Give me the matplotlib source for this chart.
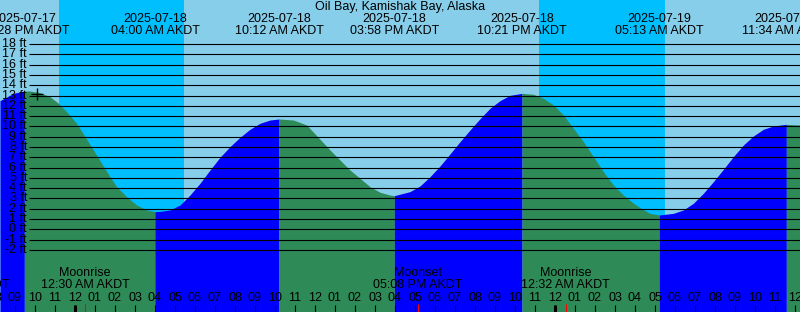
import numpy as np
import matplotlib.pyplot as plt
from matplotlib.transforms import blended_transform_factory

plt.rcParams['font.family'] = ['Liberation Sans', 'DejaVu Sans']

TITLE = "Oil Bay, Kamishak Bay, Alaska"

# time axis: hours relative to 2025-07-18 00:00 AKDT
T_START, T_END = -3.75, 36.25

# tide height (hours, ft)
curve_hours = [-3.75, -3.08, -2.25, -1.75, -1.25, -0.83, -0.42, 0.08, 0.5, 0.92,
               1.33, 1.75, 2.08, 2.58, 3.08, 3.58,
               4.25, 4.75, 5.25, 5.75, 6.25, 6.75, 7.25, 7.75, 8.25, 8.75, 9.25, 9.75,
               10.92, 11.58, 12.25, 12.75, 13.25, 13.75, 14.25, 14.75, 15.25, 15.75,
               16.75, 17.25, 17.75, 18.25, 18.75, 19.25, 19.75, 20.25, 20.75, 21.25, 21.75,
               22.92, 23.42, 23.92, 24.42, 24.92, 25.42, 25.92, 26.42, 26.92, 27.42, 27.92,
               28.42, 28.75,
               29.92, 30.42, 30.92, 31.42, 31.92, 32.42, 32.92, 33.42, 33.92, 34.42, 34.92,
               36.25]
curve_ft = [12.5, 13.21, 13.44, 13.28, 12.89, 12.24, 11.43, 10.3, 9.0, 7.71,
            6.41, 5.11, 4.14, 3.17, 2.36, 1.88,
            1.74, 1.88, 2.36, 3.33, 4.47, 5.76, 7.0, 8.03, 8.94, 9.72, 10.3, 10.62,
            10.62, 10.14, 8.75, 7.71, 6.73, 5.76, 4.96, 4.14, 3.6, 3.33,
            3.66, 4.21, 5.11, 6.15, 7.32, 8.51, 9.65, 10.74, 11.76, 12.5, 13.02,
            13.12, 12.73, 12.08, 11.11, 9.81, 8.51, 7.06, 5.6, 4.3, 3.33, 2.53,
            1.9, 1.55,
            1.55, 1.88, 2.53, 3.5, 4.63, 5.83, 7.06, 8.19, 9.07, 9.72, 10.04,
            10.14]

# high / low tides
event_hours = [-2.533, 4.0, 10.2, 15.967, 22.35, 29.217, 35.567]
event_ft = [13.44, 1.71, 10.72, 3.27, 13.21, 1.39, 10.2]
event_dates = ["2025-07-17", "2025-07-18", "2025-07-18", "2025-07-18",
               "2025-07-18", "2025-07-19", "2025-07-19"]
event_times = ["09:28 PM AKDT", "04:00 AM AKDT", "10:12 AM AKDT", "03:58 PM AKDT",
               "10:21 PM AKDT", "05:13 AM AKDT", "11:34 AM AKDT"]

# night (sunset -> sunrise)
night_spans = [(-0.8, 5.45), (23.2, 29.5)]

# moon events
moon_hours = [-5.5, 0.5, 17.133, 24.533]
moon_names = ["Moonset", "Moonrise", "Moonset", "Moonrise"]
moon_times = ["06:30 PM AKDT", "12:30 AM AKDT", "05:08 PM AKDT", "12:32 AM AKDT"]

mark_hour, mark_ft = -1.9, 13.15
ft_levels = list(range(-2, 19))

# pixel -> ft mapping of the original (0 ft at y=229.3, 10.29 px/ft)
H_PX = 312
FT_TOP = 229.3 / 10.29
FT_BOTTOM = (229.3 - H_PX) / 10.29

fig = plt.figure(figsize=(8, 3.12), dpi=100)
ax = fig.add_axes([0, 0, 1, 1])
ax.set_xlim(T_START, T_END)
ax.set_ylim(FT_BOTTOM, FT_TOP)
ax.axis("off")
top = blended_transform_factory(ax.transData, ax.transAxes)


def py(p):
    return 1 - p / H_PX


# sky
ax.axvspan(T_START, T_END, color="#87CEEB", lw=0)
for a, b in night_spans:
    ax.axvspan(a, b, color="#00BFFF", lw=0)

# tide curve, blue when rising, green when falling
t = np.array(curve_hours + event_hours)
h = np.array(curve_ft + event_ft)
order = np.argsort(t)
t, h = t[order], h[order]
bounds = [T_START] + event_hours + [T_END]
for i in range(len(bounds) - 1):
    a, b = bounds[i], bounds[i + 1]
    m = (t >= a) & (t <= b)
    rising = i % 2 == 0
    ax.fill_between(t[m], h[m], FT_BOTTOM, color="#0000FF" if rising else "#2E8B57", lw=0)

# ft grid
ax.hlines(ft_levels, -2.3, T_END, color="black", lw=0.8)
for v in ft_levels:
    ax.text(-2.4, v, f"{v} ft", ha="right", va="center", fontsize=9)
ax.plot(mark_hour, mark_ft, marker="+", ms=8, mew=1, color="black")

# title and tide labels
ax.text(0.5, py(7), TITLE, transform=ax.transAxes, ha="center", va="center", fontsize=9)
for x, d, s in zip(event_hours, event_dates, event_times):
    ax.text(x, py(19), d, transform=top, ha="center", va="center", fontsize=9)
    ax.text(x, py(31), s, transform=top, ha="center", va="center", fontsize=9)

# moon labels
for x, n, s in zip(moon_hours, moon_names, moon_times):
    ax.text(x, py(273), n, transform=top, ha="center", va="center", fontsize=9)
    ax.text(x, py(285), s, transform=top, ha="center", va="center", fontsize=9)

# hour ticks
hrs = np.arange(-4, 38)
ax.vlines(hrs, py(312), py(305), transform=top, color="black", lw=0.8)
for hh in hrs:
    ax.text(hh, py(298), f"{(hh % 12) or 12:02d}", transform=top,
            ha="center", va="center", fontsize=9)
ax.vlines([0, 24], py(312), py(305), transform=top, color="black", lw=2.2)
ax.vlines(moon_hours, py(312), py(304), transform=top, color="red", lw=0.8)

fig.savefig("out.png", dpi=100)
